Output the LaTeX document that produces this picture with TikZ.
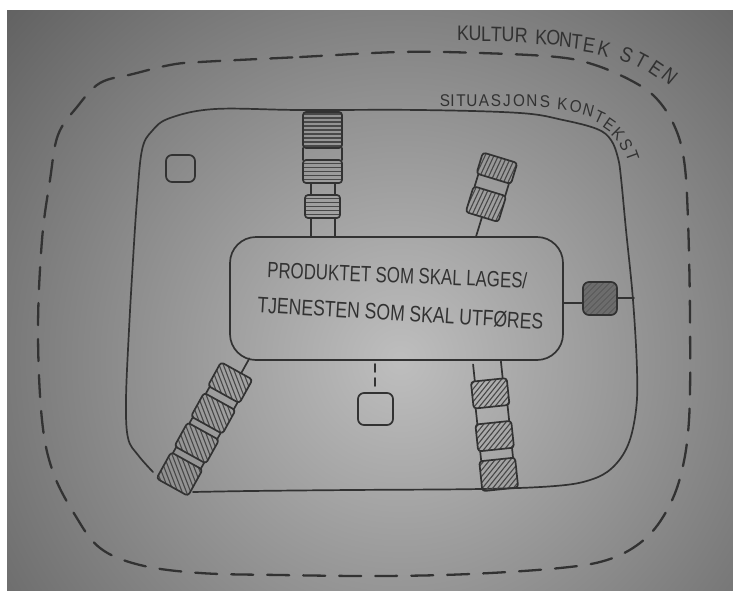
\documentclass[tikz,border=0pt]{standalone}
\usepackage{fontspec}
\usepackage{graphicx}
\setmainfont{Liberation Sans}
\usetikzlibrary{calc}
\definecolor{ink}{RGB}{50,50,50}
\definecolor{hatchc}{RGB}{72,72,72}
\definecolor{bgin}{RGB}{190,190,190}
\definecolor{bgout}{RGB}{92,92,92}
\definecolor{boxgray}{RGB}{108,108,108}
\newcommand\kfont{\fontsize{21pt}{24pt}\selectfont}
\newcommand\sfont{\fontsize{17pt}{19pt}\selectfont}
\tikzset{
 pen/.style={draw=ink, line width=1.7pt, line cap=round, line join=round},
 hatch/.style={draw=hatchc, line width=1.1pt},
 outerdash/.style={draw=ink, line width=2.3pt, dash pattern=on 22pt off 14pt, line cap=round},
 mainbox/.style={pen, rounded corners=26pt, minimum width=333pt, minimum height=123pt, inner sep=0pt},
 plainbox/.style={pen, rounded corners=6pt, inner sep=0pt},
 darkbox/.style={pen, fill=boxgray, rounded corners=6pt, inner sep=0pt,
   path picture={\foreach \k in {-54,-48,...,54}{\draw[draw=ink!85, line width=0.6pt]
     ($(path picture bounding box.center)+({\k pt-25pt},-25pt)$) -- ++(50pt,50pt);}}},
 txt/.style={anchor=base, inner sep=0pt, text=ink},
 letter/.style={anchor=base, inner sep=0pt, text=ink},
}
\newcommand\hblk[5]{%
 \begin{scope}
  \clip[rounded corners=3pt] (#1,#2) rectangle (#3,#4);
  \begin{scope}[shift={({(#1+#3)/2},{(#2+#4)/2})},rotate=#5]
   \foreach \k in {-64,-60,...,64} \draw[hatch] (\k,-70) -- (\k,70);
  \end{scope}
 \end{scope}
 \draw[pen,rounded corners=3pt] (#1,#2) rectangle (#3,#4);}
\begin{document}
\begin{tikzpicture}[x=1pt,y=-1pt]
\useasboundingbox (0,0) rectangle (733,590);
\fill[white] (0,0) rectangle (733,590);
\begin{scope}
 \clip (7,10) rectangle (733,590);
 \shade[inner color=bgin, outer color=bgout] (400,360) circle (560pt);
\end{scope}

% outer context (culture)
\draw[outerdash] plot[smooth cycle, tension=0.6] coordinates {
 (200,62) (300,57) (400,52) (480,53) (557,57) (595,65) (632,81) (656,98) (674,125)
 (684,160) (688,220) (690,320) (689,420) (680,478) (663,517) (640,543) (607,560)
 (560,568) (470,574) (380,576) (280,575) (200,573) (140,565) (100,548) (75,515)
 (53,472) (42,420) (38,330) (42,240) (50,180) (58,135) (77,107) (100,83) (133,74) (170,65)};

% inner context (situation)
\draw[pen] plot[smooth, tension=0.6] coordinates {
 (153,472) (138,455) (128,438) (126,400) (129,330) (133,260) (137,200) (142,150)
 (152,131) (170,118) (215,109) (300,110) (420,110) (520,113) (563,120) (597,129)
 (611,140) (618,158) (621,178) (626,230) (633,300) (637,370) (636,410) (628,445) (612,468)
 (590,480) (555,486) (480,489) (350,490) (250,491) (193,492)};

% labels
\foreach \l/\x/\y/\r [count=\i] in {K/463/40/0, U/475/40/0, L/486/41/0, T/496/42/-2, U/508/41/0,
  R/521/43/-2, K/541/45/-2, O/553/45/-3, N/565/47/-5, T/576/49/-6, E/588/52/-9,
  K/602/56/-15, S/624/62/-22, T/638/67/-28, E/652/75/-34, N/665/82/-40}
 \node[letter, font=\kfont, rotate=\r] (k\i) at (\x,\y) {\scalebox{0.85}[1]{\l}};
\foreach \l/\x/\y/\r [count=\i] in {S/445/106/0, I/452.5/106/0, T/461/106/0, U/472/106/0,
  A/484/106/0, S/496/106/0, J/507/106/0, O/519/106/0, N/532/106/0, S/545/107/0,
  K/562/110/-5, O/575/112/-8, N/587/116/-15, T/597/122/-25, E/606/129/-35,
  K/614/138/-45, S/621/148/-60, T/627/158/-70}
 \node[letter, font=\sfont, rotate=\r] (s\i) at (\x,\y) {\scalebox{0.9}[1]{\l}};

% central node
\node[mainbox] (center) at (396.5,298.5) {};
\node[txt, rotate=-2.3] (t1) at (397,283) {\resizebox{260pt}{16pt}{PRODUKTET SOM SKAL LAGES/}};
\node[txt, rotate=-3.4] (t2) at (400,321) {\resizebox{286pt}{16pt}{TJENESTEN SOM SKAL UTFØRES}};

% small boxes
\node[plainbox, minimum width=29pt, minimum height=27pt] (tlbox) at (180.5,168.5) {};
\node[plainbox, minimum width=35pt, minimum height=32pt] (bcbox) at (375.5,409) {};
\node[darkbox, minimum width=34pt, minimum height=33pt] (rbox) at (600,298.5) {};

\coordinate (d1) at (375,364);
\coordinate (d2) at (375,386);
\draw[pen, dash pattern=on 8pt off 6pt] (d1) -- (d2);

\coordinate (rl) at ($(rbox.west)+(0,4.5)$);
\draw[pen] (rl) -- (rl -| center.east);
\coordinate (rr) at ($(rbox.east)+(0,-0.5)$);
\coordinate (rend) at (634,298);
\draw[pen] (rr) -- (rend);

% top pillar
\hblk{303}{112}{342}{148}{90}
\draw[pen] (303,148) -- (303,160) (342,148) -- (342,160);
\hblk{303}{160}{342}{183}{90}
\draw[pen] (311,183) -- (311,195) (335,183) -- (335,195);
\hblk{305}{195}{340}{218}{90}
\draw[pen] (311,218) -- (311,237) (335,218) -- (335,237);

% top-right pillar
\begin{scope}[shift={(482,217)}, rotate=-17]
 \hblk{-17}{-27}{17}{0}{-8}
 \draw[pen] (-16,-27) -- (-16,-40) (16,-27) -- (16,-40);
 \hblk{-18}{-62}{18}{-40}{-8}
 \draw[pen] (0,0) -- (0,21);
\end{scope}

% bottom-right pillar
\begin{scope}[shift={(487,363)}, rotate=6]
 \draw[pen] (-14,0) -- (-14,17) (14,0) -- (14,17);
 \hblk{-18}{17}{18}{44}{-45}
 \draw[pen] (-16,44) -- (-16,60) (16,44) -- (16,60);
 \hblk{-18}{60}{18}{87}{-45}
 \draw[pen] (-16,87) -- (-16,97) (16,87) -- (16,97);
 \hblk{-18}{97}{18}{127}{-45}
\end{scope}

% bottom-left pillar
\begin{scope}[shift={(245,356)}, rotate=-29]
 \draw[pen] (5,0) -- (5,17);
 \hblk{-18}{17}{18}{44}{50}
 \draw[pen] (-16,44) -- (-16,52) (16,44) -- (16,52);
 \hblk{-18}{52}{18}{79}{50}
 \draw[pen] (-16,79) -- (-16,86) (16,79) -- (16,86);
 \hblk{-18}{86}{18}{113}{50}
 \draw[pen] (-16,113) -- (-16,120) (16,113) -- (16,120);
 \hblk{-18}{120}{18}{150}{50}
\end{scope}
\end{tikzpicture}
\end{document}
